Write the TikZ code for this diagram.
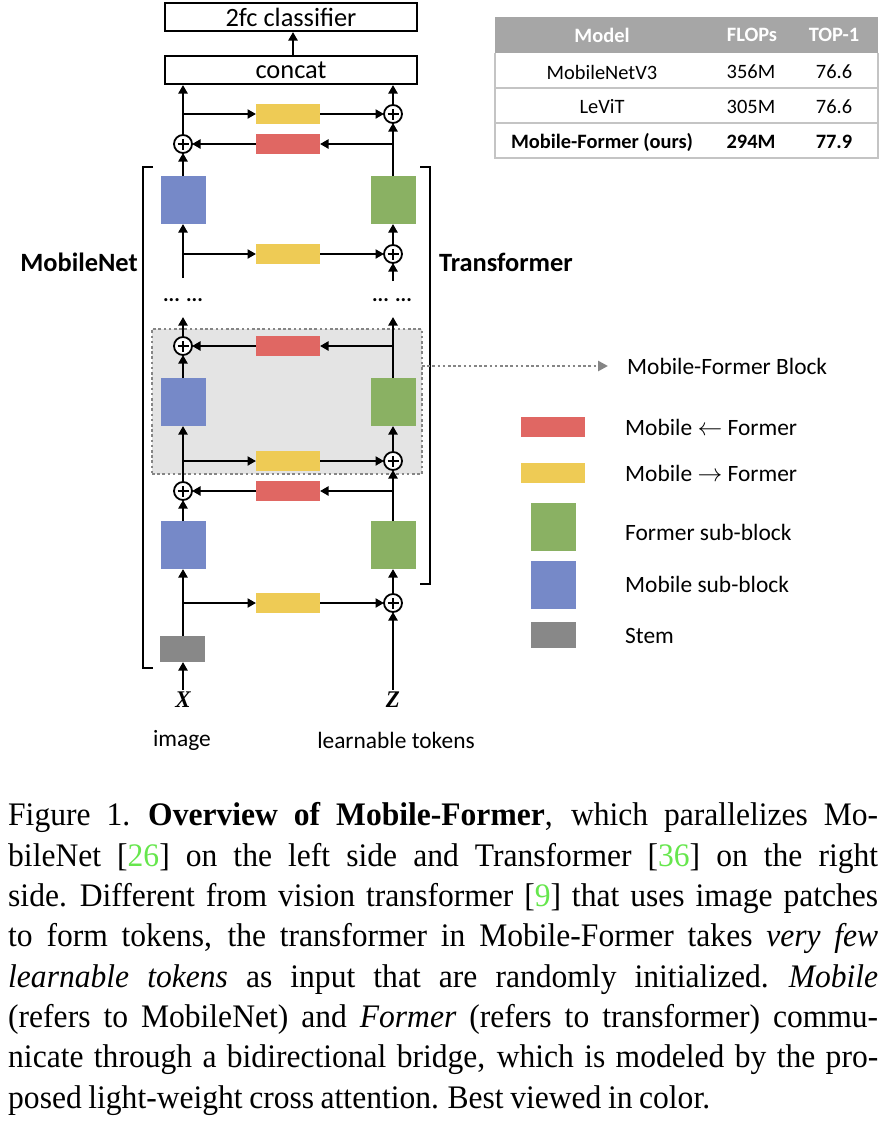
\documentclass[tikz,border=0pt]{standalone}
\usepackage{fontspec}
\setmainfont{Liberation Serif}[FakeStretch=0.96]
\newfontfamily\calfont{Carlito}
\usetikzlibrary{arrows.meta,calc}
\definecolor{blueC}{HTML}{7689C8}
\definecolor{greenC}{HTML}{8AB163}
\definecolor{yellowC}{HTML}{EECB55}
\definecolor{redC}{HTML}{E06763}
\definecolor{stemC}{HTML}{888888}
\definecolor{blockbg}{HTML}{E4E4E4}
\definecolor{dotC}{HTML}{858585}
\definecolor{theadC}{HTML}{A6A6A6}
\definecolor{tlineC}{HTML}{C4C4C4}
\definecolor{citeC}{HTML}{66E64D}
\begin{document}
\begin{tikzpicture}[x=1bp,y=-1bp,
  arr/.style={line width=2.7bp,-{Triangle[length=8.5bp,width=9bp]}},
  bar/.style={minimum width=64bp,minimum height=20bp,inner sep=0,outer sep=0},
  ybar/.style={bar,fill=yellowC},
  rbar/.style={bar,fill=redC},
  sq/.style={minimum width=45bp,minimum height=48bp,inner sep=0,outer sep=0},
  mob/.style={sq,fill=blueC},
  frm/.style={sq,fill=greenC},
  stemb/.style={minimum width=45bp,minimum height=26bp,inner sep=0,outer sep=0,fill=stemC},
  plus/.style={circle,draw,line width=1.8bp,fill=white,minimum size=18bp,inner sep=0,outer sep=0,
    path picture={\draw[line width=1.5bp] ([xshift=-5.5bp]path picture bounding box.center) -- ([xshift=5.5bp]path picture bounding box.center);
                  \draw[line width=1.5bp] ([yshift=-5.5bp]path picture bounding box.center) -- ([yshift=5.5bp]path picture bounding box.center);}},
  headbox/.style={draw,line width=2bp,minimum width=252bp,minimum height=28bp,inner sep=0,font=\calfont\fontsize{26.5}{30}\selectfont},
  lbl/.style={font=\calfont\fontsize{23.5}{27}\selectfont,inner sep=0},
  side/.style={font=\calfont\bfseries\fontsize{26.5}{30}\selectfont,inner sep=0},
  var/.style={font=\bfseries\itshape\fontsize{24}{26}\selectfont,inner sep=2bp},
  dots/.style={font=\calfont\bfseries\fontsize{21}{24}\selectfont,inner sep=0},
  tcell/.style={font=\calfont\fontsize{20.5}{24}\selectfont,inner sep=0},
  thead/.style={font=\calfont\bfseries\fontsize{20.5}{24}\selectfont,text=white,inner sep=0},
  tbold/.style={font=\calfont\bfseries\fontsize{20.5}{24}\selectfont,inner sep=0},
  blk/.style={fill=blockbg,draw=dotC,line width=2.8bp,dash pattern=on 2.6bp off 2.6bp,minimum width=270bp,minimum height=145bp,inner sep=0,outer sep=0},
  dotarr/.style={draw=dotC,line width=2.8bp,dash pattern=on 2.6bp off 2.6bp,-{Triangle[length=10bp,width=10bp,fill=dotC]}},
  brk/.style={line width=2bp}
]
\useasboundingbox (0,0) rectangle (892,1125);

% Mobile-Former block background
\node[blk] (blk) at (287,401.5) {};

% top boxes
\node[headbox] (cls) at (291,17) {2fc classifier};
\node[headbox] (cat) at (291,70) {concat};
\draw[arr] ([xshift=2bp]cat.north) -- ([xshift=2bp]cls.south);

% top layer
\node[plus] (pA) at (183,144) {};
\node[plus] (pB) at (393,114) {};
\node[ybar] (yT) at (288,114) {};
\node[rbar] (rT) at (288,144) {};
\node[mob] (b1) at (183,200) {};
\node[frm] (g1) at (393,200) {};
\coordinate (jl1) at (183,114);
\coordinate (jr1) at (393,144);
\draw[arr] (pA) -- (pA |- cat.south);
\draw[arr] (pB) -- (pB |- cat.south);
\draw[arr] (jl1) -- (yT);
\draw[arr] (yT) -- (pB);
\draw[arr] (jr1) -- (rT);
\draw[arr] (rT) -- (pA);
\draw[arr] (b1) -- (pA);
\draw[arr] (g1) -- (pB);

% layer 2
\node[ybar] (y2) at (288,254) {};
\node[plus] (pC) at (393,254) {};
\coordinate (l2s) at (183,278);
\coordinate (jl2) at (183,254);
\coordinate (r2s) at (393,281);
\draw[arr] (l2s) -- (b1);
\draw[arr] (jl2) -- (y2);
\draw[arr] (y2) -- (pC);
\draw[arr] (pC) -- (g1);
\draw[arr] (r2s) -- (pC);

\node[dots] (dl) at (183,300) {... ...};
\node[dots] (dr) at (392,300) {... ...};

% layer 3 (inside block)
\node[plus] (pD) at (183,346) {};
\node[rbar] (r3) at (288,346) {};
\node[mob] (b2) at (183,402) {};
\node[frm] (g2) at (393,402) {};
\coordinate (l3e) at (183,317);
\coordinate (r3e) at (393,317);
\coordinate (jr3) at (393,346);
\draw[arr] (pD) -- (l3e);
\draw[arr] (g2) -- (r3e);
\draw[arr] (jr3) -- (r3);
\draw[arr] (r3) -- (pD);
\draw[arr] (b2) -- (pD);

% layer 4
\node[ybar] (y4) at (288,461) {};
\node[plus] (pE) at (393,461) {};
\node[rbar] (r4) at (288,491) {};
\node[plus] (pF) at (183,491) {};
\node[mob] (b3) at (183,545) {};
\node[frm] (g3) at (393,545) {};
\coordinate (jl4) at (183,461);
\coordinate (jr4) at (393,491);
\draw[arr] (pF) -- (b2);
\draw[arr] (jl4) -- (y4);
\draw[arr] (y4) -- (pE);
\draw[arr] (pE) -- (g2);
\draw[arr] (g3) -- (pE);
\draw[arr] (jr4) -- (r4);
\draw[arr] (r4) -- (pF);
\draw[arr] (b3) -- (pF);

% layer 5
\node[ybar] (y5) at (288,603) {};
\node[plus] (pG) at (393,603) {};
\node[stemb] (stem) at (182,649) {};
\coordinate (jl5) at (183,603);
\node[var] (X) at (183,700) {X};
\node[var] (Z) at (393,700) {Z};
\draw[arr] (stem.north -| b3.south) -- (b3);
\draw[arr] (jl5) -- (y5);
\draw[arr] (y5) -- (pG);
\draw[arr] (pG) -- (g3);
\draw[arr] (Z) -- (pG);
\draw[arr] (X) -- (stem.south -| X);

\node[lbl] (img) at (182,740) {image};
\node[lbl] (tok) at (396,740) {learnable tokens};

% brackets and side labels
\draw[brk] (153,167) -- (143,167) -- (143,668) -- (153,668);
\draw[brk] (420,167) -- (430,167) -- (430,584) -- (420,584);
\node[side] (mn) at (79,262) {MobileNet};
\node[side] (tf) at (506,262) {Transformer};

% block pointer
\coordinate (mfb) at (608,366);
\draw[dotarr] (blk.east |- mfb) -- (mfb);
\node[lbl,anchor=west] (mfbt) at (627,366) {Mobile-Former Block};

% legend
\node[rbar] (lr) at (553,427) {};
\node[lbl,anchor=west] (lrt) at (625,427) {Mobile $\leftarrow$ Former};
\node[ybar] (ly) at (553,473) {};
\node[lbl,anchor=west] (lyt) at (625,473) {Mobile $\rightarrow$ Former};
\node[frm] (lg) at (553.5,527) {};
\node[lbl,anchor=west] (lgt) at (625,532) {Former sub-block};
\node[mob] (lb) at (553.5,584.5) {};
\node[lbl,anchor=west] (lbt) at (625,584) {Mobile sub-block};
\node[stemb] (ls) at (553.5,634.5) {};
\node[lbl,anchor=west] (lst) at (625,636) {Stem};

% table
\fill[theadC] (495,17) rectangle (878,53);
\draw[tlineC,line width=1.6bp] (495,53) -- (495,158) -- (878,158) -- (878,53);
\draw[tlineC,line width=1.6bp] (495,88) -- (878,88);
\draw[tlineC,line width=1.6bp] (495,123) -- (878,123);
\node[thead] (hM) at (602,35) {Model};
\node[thead] (hF) at (752,35) {FLOPs};
\node[thead] (hT) at (834,35) {TOP-1};
\node[tcell] (m1) at (602,72) {MobileNetV3};
\node[tcell] (f1) at (751,72) {356M};
\node[tcell] (t1) at (834,72) {76.6};
\node[tcell] (m2) at (602,107) {LeViT};
\node[tcell] (f2) at (751,107) {305M};
\node[tcell] (t2) at (834,107) {76.6};
\node[tbold] (m3) at (602,142) {Mobile-Former (ours)};
\node[tbold] (f3) at (751,142) {294M};
\node[tbold] (t3) at (834,142) {77.9};

% caption
\node[anchor=north west,inner sep=0,text width=870bp,align=justify,font=\fontsize{33}{40.5}\selectfont] (cap) at (8,802.5) {%
\spaceskip=0.2em plus 0.8em minus 0.02em\xspaceskip=0.26em plus 0.8em minus 0.02em
\hyphenpenalty=10000\exhyphenpenalty=10000\emergencystretch=0pt
Figure 1. \textbf{Overview of Mobile-Former}, which parallelizes Mo-\linebreak
bileNet [\textcolor{citeC}{26}] on the left side and Transformer [\textcolor{citeC}{36}] on the right\linebreak
side. Different from vision transformer [\textcolor{citeC}{9}] that uses image patches\linebreak
to form tokens, the transformer in Mobile-Former takes \textit{very few}\linebreak
\textit{learnable tokens} as input that are randomly initialized. \textit{Mobile}\linebreak
(refers to MobileNet) and \textit{Former} (refers to transformer) commu-\linebreak
nicate through a bidirectional bridge, which is modeled by the pro-\linebreak
posed light-weight cross attention. Best viewed in color.\par};
\end{tikzpicture}
\end{document}
